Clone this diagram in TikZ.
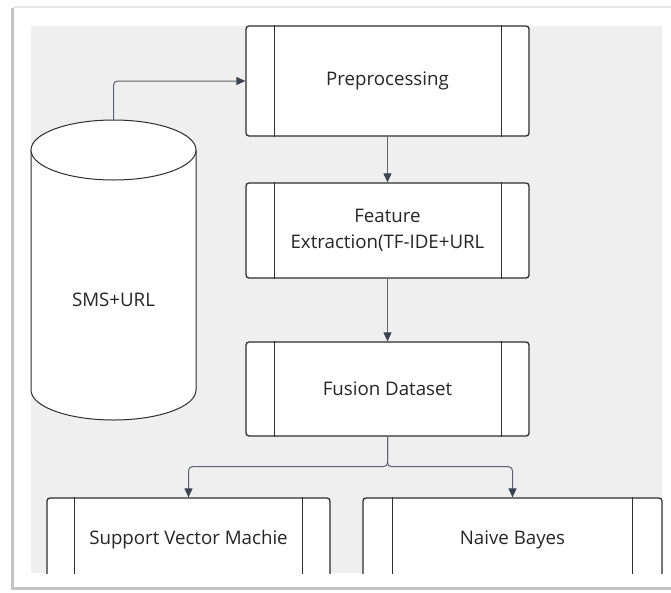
\documentclass[tikz,border=0pt]{standalone}
\usepackage{fontspec}
\setmainfont{Open Sans}
\usetikzlibrary{arrows.meta}
\definecolor{bggray}{HTML}{EFEFEF}
\definecolor{edge}{HTML}{2E2E2E}
\definecolor{wire}{HTML}{5C6370}
\definecolor{tip}{HTML}{3C4350}
\definecolor{txt}{HTML}{262626}
\definecolor{shadow}{HTML}{C4C4C4}
\definecolor{topline}{HTML}{E6E6E6}
\tikzset{
  procbox/.style={draw=edge, line width=1.3pt, fill=white, rounded corners=3pt,
    minimum width=283pt, inner sep=0pt, font=\fontsize{18.7}{26}\selectfont, text=txt, align=center},
  sidebar/.style={draw=edge, line width=1.3pt},
  flow/.style={draw=wire, line width=1pt, rounded corners=4pt,
    -{Triangle[length=9pt,width=8pt,fill=tip,color=tip]}},
  cyl/.style={draw=edge, line width=1pt},
}
\begin{document}
\begin{tikzpicture}[x=1pt,y=-1pt]
\useasboundingbox (0,0) rectangle (671,592);
\fill[white] (0,0) rectangle (671,592);
% page frame shadow
\draw[topline, line width=1.5pt] (13,7) -- (671,7);
\draw[shadow, line width=3pt] (12,8) -- (12,588) -- (671,588);
% gray canvas
\fill[bggray] (31,26) rectangle (662,573);

% cylinder
\fill[white] (31,150) rectangle (196,390);
\fill[white] (113.5,390) ellipse[x radius=82.5, y radius=30];
\draw[cyl] (31,150) -- (31,390) arc[start angle=180, end angle=0, x radius=82.5, y radius=30] -- (196,150);
\draw[cyl, fill=white] (113.5,150) ellipse[x radius=82.5, y radius=30];
\node[font=\fontsize{18.7}{22}\selectfont, text=txt] (db) at (113.5,300) {SMS+URL};
\coordinate (dbtop) at (113.5,120);

% process boxes
\node[procbox, minimum height=110pt] (pre) at (387.5,81) {Preprocessing};
\node[procbox, minimum height=95pt] (feat) at (387.5,230.5) {Feature\\Extraction(TF-IDE+URL};
\node[procbox, minimum height=94pt] (fus) at (387.5,389) {Fusion Dataset};
\foreach \n in {pre,feat,fus}{
  \draw[sidebar] ([xshift=29pt]\n.north west) -- ([xshift=29pt]\n.south west);
  \draw[sidebar] ([xshift=-28pt]\n.north east) -- ([xshift=-28pt]\n.south east);
}
\begin{scope}
\clip (0,0) rectangle (671,573.5);
\node[procbox, minimum height=84pt] (svm) at (188.5,540) {Support Vector Machie};
\node[procbox, minimum width=299pt, minimum height=84pt] (nb) at (512.5,540) {Naive Bayes};
\draw[sidebar] ([xshift=28pt]svm.north west) -- ([xshift=28pt]svm.south west);
\draw[sidebar] ([xshift=-28pt]svm.north east) -- ([xshift=-28pt]svm.south east);
\draw[sidebar] ([xshift=30pt]nb.north west) -- ([xshift=30pt]nb.south west);
\draw[sidebar] ([xshift=-30pt]nb.north east) -- ([xshift=-30pt]nb.south east);
\end{scope}

% connectors
\draw[flow] (dbtop) |- (pre.west);
\draw[flow] (pre) -- (feat);
\draw[flow] (feat) -- (fus);
\draw[flow] (fus.south) -- ++(0,30) -| (svm.north);
\draw[flow] (fus.south) -- ++(0,30) -| (nb.north);
\end{tikzpicture}
\end{document}
